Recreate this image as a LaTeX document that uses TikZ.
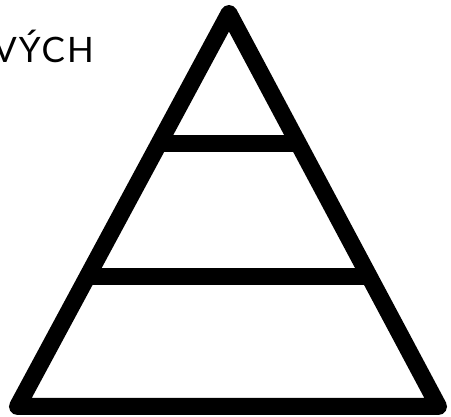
\documentclass[tikz,border=0pt]{standalone}
\usepackage{fontspec}
\setmainfont{Lato}[LetterSpace=6]
\begin{document}
\begin{tikzpicture}[x=1pt,y=-1pt,
  edge/.style={line width=17pt,line join=round,line cap=round},
  bar/.style={line width=17pt},
  label/.style={font=\fontsize{35}{35}\selectfont,inner sep=0pt,anchor=base east}]
\clip (0,0) rectangle (451,417);
\fill[white] (0,0) rectangle (451,417);
\coordinate (top) at (229,13.5);
\coordinate (bl) at (17.5,406.5);
\coordinate (br) at (438.5,406.5);
\draw[edge] (top) -- (bl) -- (br) -- cycle;
\path (top) -- (bl) coordinate[pos=0.3308] (l1);
\path (top) -- (br) coordinate[pos=0.3308] (r1);
\path (top) -- (bl) coordinate[pos=0.668] (l2);
\path (top) -- (br) coordinate[pos=0.668] (r2);
\draw[bar] (l1) -- (r1);
\draw[bar] (l2) -- (r2);
\node[label] (t) at (94,62.5) {VÝCH\hspace{-2pt}};
\end{tikzpicture}
\end{document}
